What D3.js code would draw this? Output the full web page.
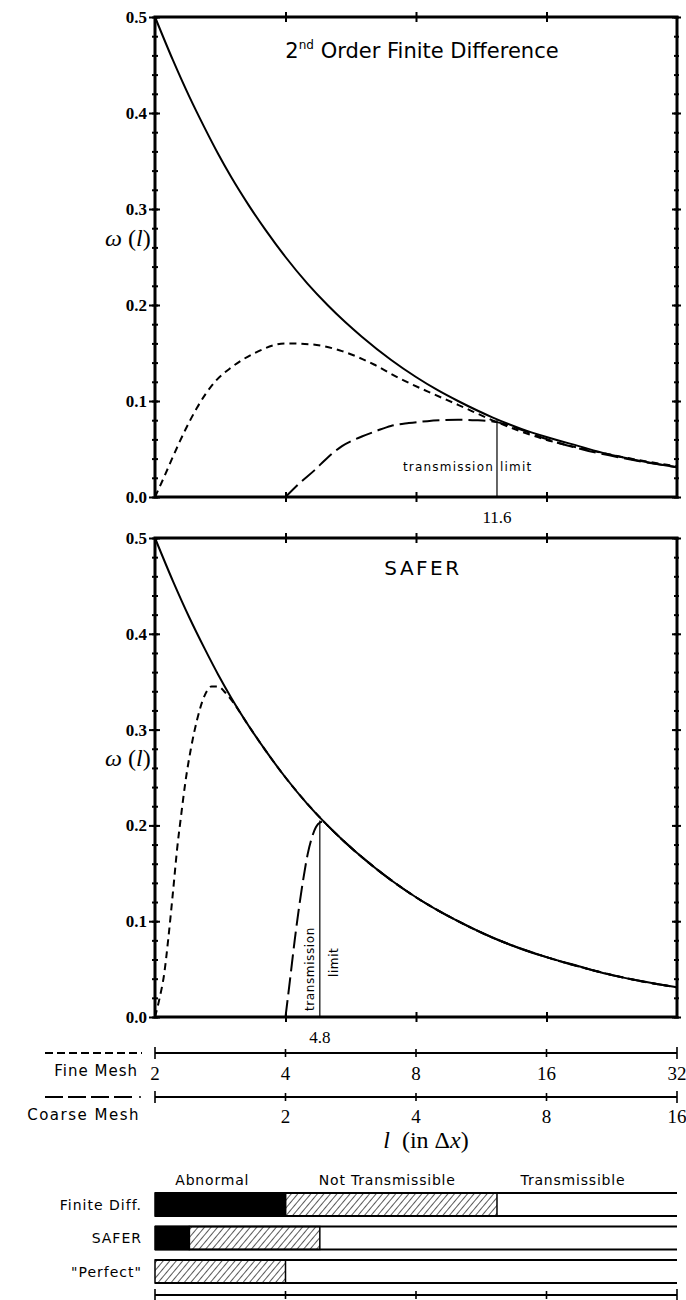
<!DOCTYPE html>
<html>
<head>
<meta charset="utf-8">
<script src="https://cdn.jsdelivr.net/npm/d3@7"></script>
<style>
  body { margin: 0; background: #fff; }
  svg { display: block; }
  .serif { font-family: "Liberation Serif", "Times New Roman", serif; }
  .hand { font-family: "DejaVu Sans", sans-serif; }
</style>
</head>
<body>
<svg id="chart" width="686" height="1300"></svg>
<script>
// wavelength ticks (in fine-mesh dx) and coarse-mesh equivalents
const fineTicks = [2, 4, 8, 16, 32];
const coarseTicks = [1, 2, 4, 8, 16];
const coarseLabels = ['', '2', '4', '8', '16'];
const wMajor = [0, 0.1, 0.2, 0.3, 0.4, 0.5];
const wMinor = d3.range(0, 0.501, 0.02);
const xInner = [4, 8, 16];

// exact curve (solid), same in both panels
const exactL = [2, 2.2, 2.4, 2.6, 2.8, 3, 3.3, 3.6, 4, 4.5, 5, 5.5, 6, 7, 8, 9, 10, 12, 14, 16, 19, 22, 26, 32];
const exactW = [0.5, 0.455, 0.417, 0.385, 0.357, 0.333, 0.303, 0.278, 0.25, 0.222, 0.2, 0.182, 0.167, 0.143, 0.125, 0.111, 0.1, 0.083, 0.071, 0.0625, 0.053, 0.045, 0.038, 0.031];

// 2nd order finite difference
const fdFineL = [2, 2.1, 2.2, 2.35, 2.5, 2.75, 3.0, 3.4, 4.0, 4.6, 5.4, 6.4, 7.3, 8.5, 10, 12.3, 15.6, 20, 25, 32];
const fdFineW = [0, 0.021, 0.042, 0.07, 0.093, 0.12, 0.135, 0.150, 0.160, 0.159, 0.152, 0.138, 0.124, 0.110, 0.096, 0.078, 0.061, 0.049, 0.040, 0.032];
const fdCoarseL = [4, 4.3, 4.67, 5.0, 5.4, 6.0, 6.5, 7.0, 7.7, 8.5, 9.2, 10, 11, 12.3, 14, 15.6, 20, 25, 32];
const fdCoarseW = [0, 0.014, 0.028, 0.041, 0.053, 0.063, 0.069, 0.074, 0.077, 0.079, 0.080, 0.0805, 0.080, 0.078, 0.070, 0.062, 0.048, 0.039, 0.031];

// SAFER
const saferFineL = [2, 2.05, 2.1, 2.15, 2.2, 2.25, 2.3, 2.35, 2.42, 2.5, 2.6, 2.7, 2.8, 2.9, 3.0, 3.3, 3.6, 4, 5, 6, 8, 10, 12, 16, 20, 26, 32];
const saferFineW = [0, 0.02, 0.045, 0.085, 0.13, 0.176, 0.212, 0.245, 0.28, 0.31, 0.335, 0.345, 0.345, 0.339, 0.331, 0.303, 0.278, 0.25, 0.2, 0.167, 0.125, 0.1, 0.083, 0.0625, 0.05, 0.038, 0.031];
const saferCoarseL = [4, 4.1, 4.2, 4.3, 4.4, 4.5, 4.6, 4.7, 4.8, 4.9, 5, 6, 8, 10, 12, 16, 20, 26, 32];
const saferCoarseW = [0, 0.04, 0.08, 0.115, 0.145, 0.17, 0.187, 0.198, 0.203, 0.204, 0.2, 0.167, 0.125, 0.1, 0.083, 0.0625, 0.05, 0.038, 0.031];

// transmission limits (position as drawn, label as printed)
const fdLimitAt = 12.3, fdLimitTop = 0.081, fdLimitLabel = '11.6';
const saferLimitAt = 4.8, saferLimitTop = 0.205, saferLimitLabel = '4.8';

// regime bars
const barRows = ['Finite Diff.', 'SAFER', '"Perfect"'];
const barHeaders = ['Abnormal', 'Not Transmissible', 'Transmissible'];
const abnormalEnd = [4, 2.4, 2];
const notTransEnd = [12.3, 4.8, 4];

const svg = d3.select('#chart');
const x = d3.scaleLog().base(2).domain([2, 32]).range([155, 677]);
const xc = d3.scaleLog().base(2).domain([1, 16]).range([155, 677]);

const defs = svg.append('defs');
defs.append('pattern')
  .attr('id', 'hatch')
  .attr('patternUnits', 'userSpaceOnUse')
  .attr('width', 5).attr('height', 5)
  .attr('patternTransform', 'rotate(40)')
  .append('line')
  .attr('x1', 0).attr('y1', 0).attr('x2', 0).attr('y2', 5)
  .attr('stroke', '#000').attr('stroke-width', 1.3);

const noDomain = (g) => g.select('.domain').remove();

function drawPanel(p) {
  const y = d3.scaleLinear().domain([0, 0.5]).range([p.bottom, p.top]);
  const g = svg.append('g');
  const line = d3.line()
    .x((d) => x(d[0]))
    .y((d) => y(d[1]))
    .curve(d3.curveMonotoneX);

  g.append('path').datum(d3.zip(exactL, exactW))
    .attr('d', line).attr('fill', 'none')
    .attr('stroke', '#000').attr('stroke-width', 2);
  g.append('path').datum(d3.zip(p.fineL, p.fineW))
    .attr('d', line).attr('fill', 'none')
    .attr('stroke', '#000').attr('stroke-width', 2)
    .attr('stroke-dasharray', '7,5');
  g.append('path').datum(d3.zip(p.coarseL, p.coarseW))
    .attr('d', line).attr('fill', 'none')
    .attr('stroke', '#000').attr('stroke-width', 2)
    .attr('stroke-dasharray', '17,6');

  // frame
  g.append('rect')
    .attr('x', x(2)).attr('y', p.top)
    .attr('width', x(32) - x(2)).attr('height', p.bottom - p.top)
    .attr('fill', 'none').attr('stroke', '#000').attr('stroke-width', 3);

  // left axis
  const left = g.append('g').attr('transform', `translate(${x(2)},0)`);
  left.append('g')
    .call(d3.axisLeft(y).tickValues(wMajor).tickSize(6).tickPadding(2).tickFormat(d3.format('.1f')))
    .call(noDomain);
  left.append('g').call(d3.axisRight(y).tickValues(wMajor).tickSize(5).tickFormat('')).call(noDomain);
  left.append('g').call(d3.axisLeft(y).tickValues(wMinor).tickSize(3).tickFormat('')).call(noDomain);
  left.append('g').call(d3.axisRight(y).tickValues(wMinor).tickSize(3).tickFormat('')).call(noDomain);

  // right axis
  const right = g.append('g').attr('transform', `translate(${x(32)},0)`);
  right.append('g').call(d3.axisLeft(y).tickValues(wMajor).tickSize(5).tickFormat('')).call(noDomain);
  right.append('g').call(d3.axisRight(y).tickValues(wMajor).tickSize(4).tickFormat('')).call(noDomain);
  right.append('g').call(d3.axisLeft(y).tickValues(wMinor).tickSize(3).tickFormat('')).call(noDomain);
  right.append('g').call(d3.axisRight(y).tickValues(wMinor).tickSize(2).tickFormat('')).call(noDomain);

  // top / bottom ticks
  [p.top, p.bottom].forEach((yy) => {
    const t = g.append('g').attr('transform', `translate(0,${yy})`);
    t.append('g').call(d3.axisTop(x).tickValues(xInner).tickSize(5).tickFormat('')).call(noDomain);
    t.append('g').call(d3.axisBottom(x).tickValues(xInner).tickSize(5).tickFormat('')).call(noDomain);
  });

  g.selectAll('.tick line').attr('stroke-width', 2);
  g.selectAll('.tick text')
    .attr('class', 'serif')
    .attr('font-size', 17).attr('font-weight', 'bold')
    .attr('font-family', '"Liberation Serif", serif');

  // y label
  const yl = g.append('text')
    .attr('class', 'serif')
    .attr('x', 105).attr('y', y(0.27) + 8)
    .attr('font-size', 24).attr('font-style', 'italic');
  yl.append('tspan').text('\u03C9');
  yl.append('tspan').attr('font-style', 'normal').text(' (');
  yl.append('tspan').text('l');
  yl.append('tspan').attr('font-style', 'normal').text(')');

  // transmission limit
  g.append('line')
    .attr('x1', x(p.limitAt)).attr('x2', x(p.limitAt))
    .attr('y1', y(0)).attr('y2', y(p.limitTop))
    .attr('stroke', '#000').attr('stroke-width', 1.2);
  g.append('text')
    .attr('class', 'serif')
    .attr('x', x(p.limitAt)).attr('y', p.bottom + 26)
    .attr('text-anchor', 'middle').attr('font-size', 17)
    .text(p.limitLabel);

  if (p.vertical) {
    g.append('text').attr('class', 'hand')
      .attr('transform', `translate(${x(p.limitAt) - 6},${p.bottom - 6}) rotate(-90)`)
      .attr('font-size', 12).attr('letter-spacing', 0.6)
      .text('transmission');
    g.append('text').attr('class', 'hand')
      .attr('transform', `translate(${x(p.limitAt) + 18},${p.bottom - 40}) rotate(-90)`)
      .attr('font-size', 12).attr('letter-spacing', 0.6)
      .text('limit');
  } else {
    g.append('text').attr('class', 'hand')
      .attr('x', x(p.limitAt) - 3).attr('y', p.bottom - 26)
      .attr('text-anchor', 'end').attr('font-size', 12).attr('letter-spacing', 1.2)
      .text('transmission');
    g.append('text').attr('class', 'hand')
      .attr('x', x(p.limitAt) + 3).attr('y', p.bottom - 26)
      .attr('font-size', 12).attr('letter-spacing', 1.2)
      .text('limit');
  }

  p.drawTitle(g);
}

drawPanel({
  top: 17, bottom: 497,
  fineL: fdFineL, fineW: fdFineW, coarseL: fdCoarseL, coarseW: fdCoarseW,
  limitAt: fdLimitAt, limitTop: fdLimitTop, limitLabel: fdLimitLabel,
  vertical: false,
  drawTitle: (g) => {
    const t = g.append('text').attr('class', 'hand')
      .attr('x', 422).attr('y', 58)
      .attr('text-anchor', 'middle').attr('font-size', 21);
    t.append('tspan').text('2');
    t.append('tspan').attr('font-size', 12).attr('dy', -9).text('nd');
    t.append('tspan').attr('dy', 9).text(' Order Finite Difference');
  },
});

drawPanel({
  top: 538, bottom: 1017,
  fineL: saferFineL, fineW: saferFineW, coarseL: saferCoarseL, coarseW: saferCoarseW,
  limitAt: saferLimitAt, limitTop: saferLimitTop, limitLabel: saferLimitLabel,
  vertical: true,
  drawTitle: (g) => {
    g.append('text').attr('class', 'hand')
      .attr('x', 423).attr('y', 575)
      .attr('text-anchor', 'middle').attr('font-size', 20).attr('letter-spacing', 2.5)
      .text('SAFER');
  },
});

// mesh scales
function drawScale(yy, scale, ticks, labels, labelY) {
  const g = svg.append('g');
  g.append('line')
    .attr('x1', scale(ticks[0])).attr('x2', scale(ticks[ticks.length - 1]))
    .attr('y1', yy).attr('y2', yy)
    .attr('stroke', '#000').attr('stroke-width', 2);
  g.selectAll('line.tk').data(ticks).join('line')
    .attr('class', 'tk')
    .attr('x1', (d) => scale(d)).attr('x2', (d) => scale(d))
    .attr('y1', (d, i) => yy - (i === 0 || i === ticks.length - 1 ? 6 : 4))
    .attr('y2', (d, i) => yy + (i === 0 || i === ticks.length - 1 ? 6 : 4))
    .attr('stroke', '#000').attr('stroke-width', 1.6);
  if (labels) {
    g.selectAll('text').data(ticks).join('text')
      .attr('class', 'serif')
      .attr('x', (d) => scale(d)).attr('y', labelY)
      .attr('text-anchor', 'middle').attr('font-size', 19)
      .text((d, i) => labels[i]);
  }
}

drawScale(1053, x, fineTicks, fineTicks.map(String), 1080);
drawScale(1097, xc, coarseTicks, coarseLabels, 1123);

// legend lines
svg.append('line')
  .attr('x1', 45).attr('x2', 142).attr('y1', 1053).attr('y2', 1053)
  .attr('stroke', '#000').attr('stroke-width', 2).attr('stroke-dasharray', '8,4');
svg.append('text').attr('class', 'hand')
  .attr('x', 138).attr('y', 1076).attr('text-anchor', 'end')
  .attr('font-size', 15).attr('letter-spacing', 1)
  .text('Fine Mesh');
svg.append('line')
  .attr('x1', 45).attr('x2', 133).attr('y1', 1097).attr('y2', 1097)
  .attr('stroke', '#000').attr('stroke-width', 2).attr('stroke-dasharray', '18,5');
svg.append('circle').attr('cx', 140).attr('cy', 1097).attr('r', 1).attr('fill', '#000');
svg.append('text').attr('class', 'hand')
  .attr('x', 140).attr('y', 1120).attr('text-anchor', 'end')
  .attr('font-size', 15).attr('letter-spacing', 1.5)
  .text('Coarse Mesh');

// x title
const xt = svg.append('text').attr('class', 'serif')
  .attr('x', 426).attr('y', 1148).attr('text-anchor', 'middle').attr('font-size', 24);
xt.append('tspan').attr('font-style', 'italic').text('l');
xt.append('tspan').text('\u2002(in \u0394');
xt.append('tspan').attr('font-style', 'italic').text('x');
xt.append('tspan').text(')');

// regime bars
const rowY = d3.scalePoint().domain(barRows).range([1193, 1260]);
const rowH = 23;

const headerX = [
  (x(2) + x(abnormalEnd[0])) / 2 - 8,
  (x(abnormalEnd[0]) + x(notTransEnd[0])) / 2 - 4,
  (x(notTransEnd[0]) + x(32)) / 2 - 14,
];
svg.selectAll('text.hdr').data(barHeaders).join('text')
  .attr('class', 'hdr hand')
  .attr('x', (d, i) => headerX[i]).attr('y', 1185)
  .attr('text-anchor', 'middle').attr('font-size', 14).attr('letter-spacing', 0.8)
  .text((d) => d);

barRows.forEach((name, i) => {
  const top = rowY(name);
  const g = svg.append('g');
  [top, top + rowH].forEach((yy) => {
    g.append('line')
      .attr('x1', x(2)).attr('x2', x(32)).attr('y1', yy).attr('y2', yy)
      .attr('stroke', '#000').attr('stroke-width', 1.8);
  });
  if (abnormalEnd[i] > 2) {
    g.append('rect')
      .attr('x', x(2)).attr('y', top)
      .attr('width', x(abnormalEnd[i]) - x(2)).attr('height', rowH)
      .attr('fill', '#000').attr('stroke', '#000').attr('stroke-width', 1.5);
  }
  g.append('rect')
    .attr('x', x(abnormalEnd[i])).attr('y', top)
    .attr('width', x(notTransEnd[i]) - x(abnormalEnd[i])).attr('height', rowH)
    .attr('fill', 'url(#hatch)').attr('stroke', '#000').attr('stroke-width', 1.5);
  g.append('text').attr('class', 'hand')
    .attr('x', 142).attr('y', top + rowH / 2 + 5)
    .attr('text-anchor', 'end').attr('font-size', 14).attr('letter-spacing', 1)
    .text(name);
});

drawScale(1295, x, fineTicks, null, 0);
</script>
</body>
</html>
